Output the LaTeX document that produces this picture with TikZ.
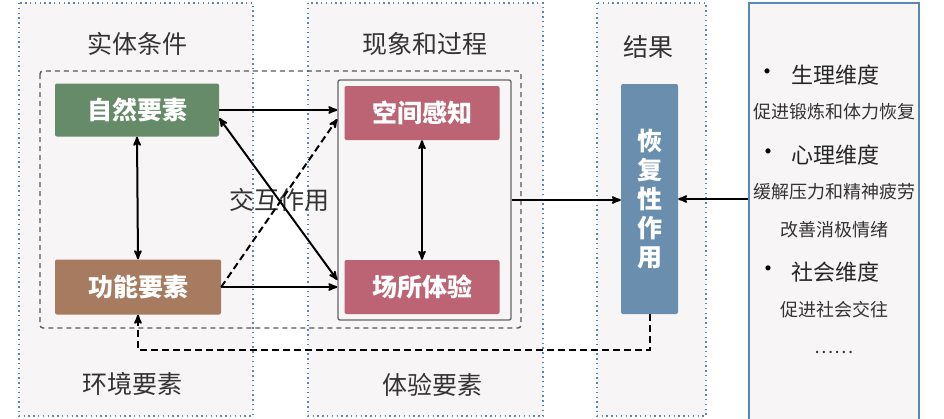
\documentclass[tikz,border=0pt]{standalone}
\usepackage{fontspec}
\setmainfont{Noto Sans CJK SC}
\usetikzlibrary{positioning,arrows}
\definecolor{pnlfill}{HTML}{F7F5F6}
\definecolor{pnldot}{HTML}{5B87B4}
\definecolor{zrgreen}{HTML}{658B68}
\definecolor{gnbrown}{HTML}{A77B60}
\definecolor{tyred}{HTML}{BC6473}
\definecolor{hfblue}{HTML}{6A8FAE}
\definecolor{txtgray}{HTML}{333333}
\tikzset{
  pnl_d/.style = {fill=pnlfill, draw=pnldot, line width=1.4pt,
    dash pattern=on 1.4pt off 3.4pt},
  pnl_s/.style = {fill=pnlfill, draw=pnldot, line width=1.2pt},
  ttl/.style = {text=txtgray, font=\fontsize{25}{25}\selectfont},
  elem/.style = {rounded corners=2pt, text=white, inner sep=0pt,
    font=\fontsize{25}{25}\selectfont\bfseries},
  elem_g/.style = {elem, fill=zrgreen, minimum width=164pt, minimum height=53pt},
  elem_b/.style = {elem, fill=gnbrown, minimum width=166pt, minimum height=55pt},
  elem_r/.style = {elem, fill=tyred, minimum width=155pt, minimum height=54pt},
  dim_h/.style = {text=black!85, font=\fontsize{22}{22}\selectfont},
  dim_t/.style = {text=txtgray, font=\fontsize{18}{18}\selectfont},
  dim_b/.style = {text=black, font=\fontsize{24}{24}\selectfont},
  conn/.style = {->, >=stealth', line width=2pt, black},
  fb/.style = {->, >=stealth', line width=2pt, black, dash pattern=on 7pt off 4pt}
}

\begin{document}
\begin{tikzpicture}[x=1pt, y=-1pt]
\useasboundingbox (0,0) rectangle (944,418);
% panels
\draw[pnl_d] (19,3) rectangle (253,416);
\draw[pnl_d] (308,3) rectangle (543,416);
\draw[pnl_d] (597,3) rectangle (706,416);
\node (rp) [pnl_s, minimum width=170pt, minimum height=420pt, inner sep=0pt] at (834,213) {};
% titles
\node (t1) [ttl] at (137,44) {实体条件};
\node (t2) [ttl] at (425,44) {现象和过程};
\node (t3) [ttl] at (648,47) {结果};
\node (t4) [ttl] at (132,384) {环境要素};
\node (t5) [ttl] at (432,385) {体验要素};
% dashed group and inner box
\draw[draw=black!65, line width=1.4pt, dash pattern=on 5pt off 4pt, rounded corners=3pt]
  (40,71) rectangle (521,328);
\node (inb) [draw=black!60, line width=1.4pt, rounded corners=2pt, inner sep=0pt,
  minimum width=173pt, minimum height=240pt] at (424.5,200) {};
% elements
\node (zr) [elem_g] at (137,110) {自然要素};
\node (gn) [elem_b] at (138,287) {功能要素};
\node (kj) [elem_r] at (422,113) {空间感知};
\node (cs) [elem_r] at (422,287) {场所体验};
\node (hf) [elem, fill=hfblue, minimum width=57pt, minimum height=230pt, align=center,
  font=\fontsize{25}{29}\selectfont\bfseries] at (649.5,199) {恢\\复\\性\\作\\用};
\node (jh) [ttl] at (279,200) {交互作用};
% connectors
\draw[conn, <->] (zr.south) -- (gn.north);
\draw[conn, <->] (kj.south) -- (cs.north);
\draw[conn] (zr.east) -- (zr.east -| inb.west);
\draw[conn] (gn.east) -- (gn.east -| inb.west);
\draw[conn, <->] ([yshift=-8pt]zr.east) -- ([yshift=7pt]cs.west -| inb.west);
\draw[fb] (gn.east) -- ([yshift=-6pt]kj.west -| inb.west);
\draw[conn] (inb.east) -- (inb.east -| hf.west);
\draw[conn] (rp.west |- hf.east) -- (hf.east);
\draw[fb] (hf.south) -- ++(0,36) -| (gn.south);
% dimensions
\node (b1) [dim_b] at (767,75) {•};
\node (d1) [dim_h] at (835,75) {生理维度};
\node (s1) [dim_t] at (834,112) {促进锻炼和体力恢复};
\node (b2) [dim_b] at (768,155) {•};
\node (d2) [dim_h] at (835,155) {心理维度};
\node (s2) [dim_t] at (834,192) {缓解压力和精神疲劳};
\node (s3) [dim_t] at (834,230) {改善消极情绪};
\node (b3) [dim_b] at (768,272) {•};
\node (d3) [dim_h] at (835,272) {社会维度};
\node (s4) [dim_t] at (834,310) {促进社会交往};
\node (s5) [dim_t] at (834,352) {……};
\end{tikzpicture}
\end{document}
